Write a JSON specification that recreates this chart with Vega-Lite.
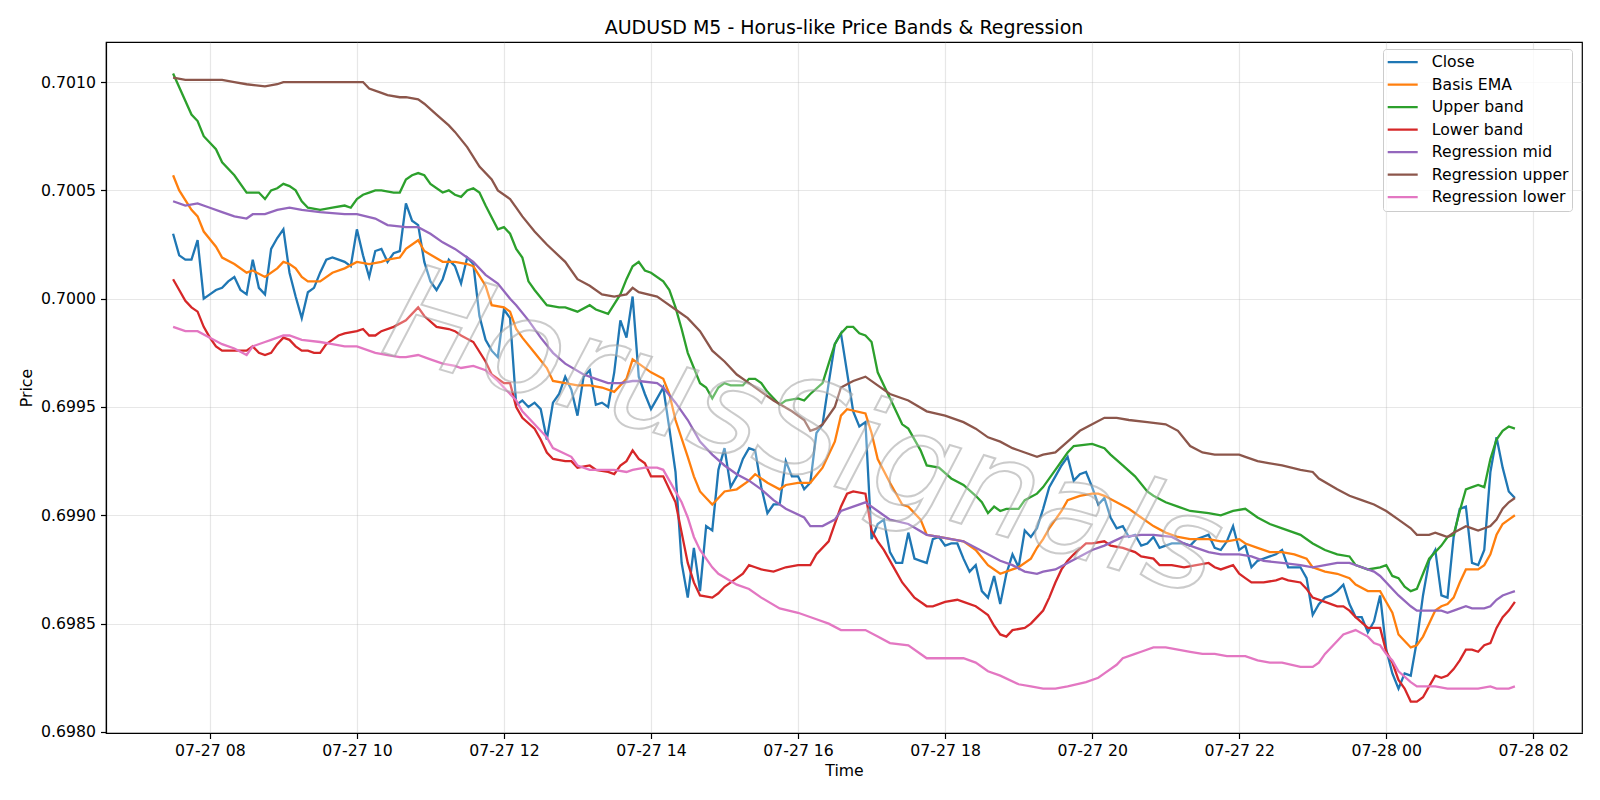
{
"$schema": "https://vega.github.io/schema/vega-lite/v6.json",
"width": 1476, "height": 691,
"autosize": {"type": "none"},
"padding": {"left": 106, "top": 42, "right": 18, "bottom": 67},
"background": "white",
"config": {"view": {"stroke": "black", "strokeWidth": 1.2}},
"title": {"text": "AUDUSD M5 - Horus-like Price Bands & Regression", "fontSize": 19, "font": "DejaVu Sans", "fontWeight": "normal", "color": "black", "offset": 4},
"layer": [
{
"data": {"values": [
{"t":"2025-07-27T07:30","c":0.70030,"e":0.70057,"u":0.70104,"l":0.70009,"m":0.70045,"ru":0.70102,"rl":0.69987},
{"t":"2025-07-27T07:35","c":0.70020,"e":0.70050,"l":0.70004},
{"t":"2025-07-27T07:40","c":0.70018,"l":0.69999,"m":0.70043,"ru":0.70101,"rl":0.69985},
{"t":"2025-07-27T07:45","c":0.70018,"e":0.70041,"u":0.70085,"l":0.69996},
{"t":"2025-07-27T07:50","c":0.70027,"e":0.70038,"u":0.70082,"l":0.69994,"m":0.70044,"ru":0.70101,"rl":0.69985},
{"t":"2025-07-27T07:55","c":0.70000,"e":0.70031,"u":0.70075,"l":0.69987},
{"t":"2025-07-27T08:00","c":0.70002,"l":0.69982,"m":0.70042,"ru":0.70101,"rl":0.69982},
{"t":"2025-07-27T08:05","c":0.70004,"e":0.70024,"u":0.70069,"l":0.69978},
{"t":"2025-07-27T08:10","c":0.70005,"e":0.70019,"u":0.70063,"l":0.69976,"m":0.70040,"ru":0.70101,"rl":0.69979},
{"t":"2025-07-27T08:15","c":0.70008,"l":0.69976},
{"t":"2025-07-27T08:20","c":0.70010,"e":0.70016,"u":0.70057,"l":0.69976,"m":0.70038,"ru":0.70100,"rl":0.69977},
{"t":"2025-07-27T08:25","c":0.70004,"l":0.69976},
{"t":"2025-07-27T08:30","c":0.70002,"e":0.70012,"u":0.70049,"l":0.69976,"m":0.70037,"ru":0.70099,"rl":0.69974},
{"t":"2025-07-27T08:35","c":0.70018,"e":0.70013,"u":0.70049,"l":0.69978,"m":0.70039,"rl":0.69978},
{"t":"2025-07-27T08:40","c":0.70005,"u":0.70049,"l":0.69975},
{"t":"2025-07-27T08:45","c":0.70002,"e":0.70010,"u":0.70046,"l":0.69974,"m":0.70039,"ru":0.70098,"rl":0.69980},
{"t":"2025-07-27T08:50","c":0.70023,"u":0.70050,"l":0.69975,"rl":0.69981},
{"t":"2025-07-27T08:55","c":0.70028,"e":0.70014,"u":0.70051,"l":0.69979,"m":0.70041,"ru":0.70099},
{"t":"2025-07-27T09:00","c":0.70032,"e":0.70017,"u":0.70053,"l":0.69982,"ru":0.70100,"rl":0.69983},
{"t":"2025-07-27T09:05","c":0.70012,"e":0.70016,"u":0.70052,"l":0.69981,"m":0.70042,"rl":0.69983},
{"t":"2025-07-27T09:10","c":0.70001,"e":0.70014,"u":0.70050,"l":0.69978},
{"t":"2025-07-27T09:15","c":0.69991,"e":0.70010,"u":0.70045,"l":0.69976,"m":0.70041,"ru":0.70100,"rl":0.69981},
{"t":"2025-07-27T09:20","c":0.70003,"e":0.70008,"u":0.70042,"l":0.69976},
{"t":"2025-07-27T09:25","c":0.70005,"l":0.69975},
{"t":"2025-07-27T09:30","c":0.70012,"e":0.70008,"u":0.70041,"l":0.69975,"m":0.70040,"ru":0.70100,"rl":0.69980},
{"t":"2025-07-27T09:35","c":0.70018,"l":0.69979},
{"t":"2025-07-27T09:40","c":0.70019,"e":0.70012,"u":0.70042,"l":0.69981,"rl":0.69979},
{"t":"2025-07-27T09:45","c":0.70018,"l":0.69983},
{"t":"2025-07-27T09:50","c":0.70017,"e":0.70014,"u":0.70043,"l":0.69984,"m":0.70039,"ru":0.70100,"rl":0.69978},
{"t":"2025-07-27T09:55","c":0.70015,"u":0.70042},
{"t":"2025-07-27T10:00","c":0.70032,"e":0.70017,"u":0.70046,"l":0.69985,"m":0.70039,"ru":0.70100,"rl":0.69978},
{"t":"2025-07-27T10:05","c":0.70020,"u":0.70048,"l":0.69986,"ru":0.70100},
{"t":"2025-07-27T10:10","c":0.70010,"e":0.70016,"u":0.70049,"l":0.69983,"ru":0.70097},
{"t":"2025-07-27T10:15","c":0.70022,"u":0.70050,"l":0.69983,"m":0.70037,"rl":0.69975},
{"t":"2025-07-27T10:20","c":0.70023,"e":0.70017,"u":0.70050,"l":0.69985,"ru":0.70095},
{"t":"2025-07-27T10:25","c":0.70017,"e":0.70018,"m":0.70034,"ru":0.70094,"rl":0.69974},
{"t":"2025-07-27T10:30","c":0.70021,"u":0.70049,"l":0.69987},
{"t":"2025-07-27T10:35","c":0.70022,"e":0.70019,"u":0.70049,"ru":0.70093,"rl":0.69973},
{"t":"2025-07-27T10:40","c":0.70044,"e":0.70023,"u":0.70055,"l":0.69990,"m":0.70033,"ru":0.70093,"rl":0.69973},
{"t":"2025-07-27T10:45","c":0.70036,"u":0.70057},
{"t":"2025-07-27T10:50","c":0.70034,"e":0.70027,"u":0.70058,"l":0.69996,"m":0.70033,"ru":0.70092,"rl":0.69974},
{"t":"2025-07-27T10:55","c":0.70017,"e":0.70022,"u":0.70057,"l":0.69992,"ru":0.70090},
{"t":"2025-07-27T11:00","c":0.70008,"u":0.70053,"m":0.70030,"rl":0.69972},
{"t":"2025-07-27T11:05","c":0.70004,"l":0.69987,"ru":0.70085},
{"t":"2025-07-27T11:10","c":0.70009,"e":0.70017,"u":0.70049,"m":0.70026,"rl":0.69970},
{"t":"2025-07-27T11:15","c":0.70018,"u":0.70050,"l":0.69986,"ru":0.70080},
{"t":"2025-07-27T11:20","c":0.70015,"e":0.70017,"u":0.70048,"l":0.69985,"m":0.70023,"ru":0.70077,"rl":0.69969},
{"t":"2025-07-27T11:25","c":0.70007,"u":0.70047,"l":0.69983,"rl":0.69968},
{"t":"2025-07-27T11:30","c":0.70019,"e":0.70016,"u":0.70050,"m":0.70019,"ru":0.70070},
{"t":"2025-07-27T11:35","c":0.70016,"e":0.70015,"u":0.70051,"l":0.69980,"m":0.70017,"rl":0.69969},
{"t":"2025-07-27T11:40","c":0.69992,"u":0.70049,"ru":0.70061},
{"t":"2025-07-27T11:45","c":0.69981,"e":0.70006,"u":0.70043,"l":0.69971,"m":0.70011,"rl":0.69967},
{"t":"2025-07-27T11:50","c":0.69976,"e":0.69997,"l":0.69965,"ru":0.70055},
{"t":"2025-07-27T11:55","c":0.69973,"u":0.70032,"m":0.70007,"ru":0.70050,"rl":0.69962},
{"t":"2025-07-27T12:00","c":0.69995,"e":0.69996,"u":0.70033,"l":0.69961,"rl":0.69959},
{"t":"2025-07-27T12:05","c":0.69991,"e":0.69994,"u":0.70030,"l":0.69961,"m":0.70000,"ru":0.70046},
{"t":"2025-07-27T12:10","c":0.69951,"e":0.69986,"u":0.70023,"l":0.69950,"m":0.69997,"ru":0.70042,"rl":0.69953},
{"t":"2025-07-27T12:15","c":0.69953,"e":0.69982,"u":0.70019,"l":0.69945,"ru":0.70038,"rl":0.69948},
{"t":"2025-07-27T12:20","c":0.69950,"u":0.70008,"m":0.69990},
{"t":"2025-07-27T12:25","c":0.69952,"e":0.69975,"u":0.70004,"l":0.69940,"ru":0.70031,"rl":0.69942},
{"t":"2025-07-27T12:30","c":0.69949,"l":0.69935,"m":0.69982},
{"t":"2025-07-27T12:35","c":0.69935,"e":0.69968,"u":0.69997,"l":0.69929,"ru":0.70025,"rl":0.69936},
{"t":"2025-07-27T12:40","c":0.69952,"e":0.69962,"l":0.69926,"m":0.69975,"rl":0.69931},
{"t":"2025-07-27T12:45","c":0.69956,"u":0.69996},
{"t":"2025-07-27T12:50","c":0.69964,"e":0.69961,"u":0.69996,"l":0.69925,"m":0.69970,"ru":0.70017},
{"t":"2025-07-27T12:55","c":0.69958,"l":0.69925,"rl":0.69927},
{"t":"2025-07-27T13:00","c":0.69946,"e":0.69960,"u":0.69994,"l":0.69922,"ru":0.70009,"rl":0.69923},
{"t":"2025-07-27T13:05","c":0.69964,"m":0.69965},
{"t":"2025-07-27T13:10","c":0.69967,"e":0.69960,"u":0.69997,"l":0.69923,"ru":0.70006,"rl":0.69921},
{"t":"2025-07-27T13:15","c":0.69951,"u":0.69995,"l":0.69921,"m":0.69963},
{"t":"2025-07-27T13:20","c":0.69952,"e":0.69959,"ru":0.70002,"rl":0.69921},
{"t":"2025-07-27T13:25","c":0.69950,"u":0.69993,"l":0.69920,"m":0.69961},
{"t":"2025-07-27T13:30","c":0.69966,"e":0.69957,"l":0.69919,"ru":0.70001,"rl":0.69921},
{"t":"2025-07-27T13:35","c":0.69990,"u":0.70002,"l":0.69923,"m":0.69961},
{"t":"2025-07-27T13:40","c":0.69982,"e":0.69963,"u":0.70009,"l":0.69925,"ru":0.70002,"rl":0.69920},
{"t":"2025-07-27T13:45","c":0.70001,"e":0.69972,"u":0.70015,"l":0.69930,"m":0.69962,"ru":0.70005,"rl":0.69921},
{"t":"2025-07-27T13:50","c":0.69964,"e":0.69970,"u":0.70017,"l":0.69926,"m":0.69962,"ru":0.70003},
{"t":"2025-07-27T13:55","c":0.69956,"u":0.70013,"l":0.69924,"rl":0.69922},
{"t":"2025-07-27T14:00","c":0.69949,"e":0.69966,"u":0.70012,"l":0.69918},
{"t":"2025-07-27T14:05","c":0.69954,"m":0.69961,"ru":0.70001,"rl":0.69922},
{"t":"2025-07-27T14:10","c":0.69959,"e":0.69963,"u":0.70008,"l":0.69918,"m":0.69959,"ru":0.69999,"rl":0.69921},
{"t":"2025-07-27T14:15","c":0.69940,"e":0.69956,"u":0.70004,"l":0.69912,"rl":0.69916},
{"t":"2025-07-27T14:20","c":0.69920,"e":0.69944,"u":0.69996,"l":0.69906,"m":0.69952,"ru":0.69995},
{"t":"2025-07-27T14:25","c":0.69878,"u":0.69986,"l":0.69892,"rl":0.69906},
{"t":"2025-07-27T14:30","c":0.69862,"e":0.69927,"u":0.69975,"l":0.69878,"m":0.69944,"ru":0.69991,"rl":0.69899},
{"t":"2025-07-27T14:35","c":0.69885,"e":0.69918,"u":0.69968,"l":0.69869,"rl":0.69890},
{"t":"2025-07-27T14:40","c":0.69865,"e":0.69911,"u":0.69961,"l":0.69863,"m":0.69934,"ru":0.69985,"rl":0.69884},
{"t":"2025-07-27T14:45","c":0.69895,"u":0.69959},
{"t":"2025-07-27T14:50","c":0.69893,"e":0.69905,"u":0.69954,"l":0.69862,"m":0.69928,"ru":0.69976,"rl":0.69876},
{"t":"2025-07-27T14:55","c":0.69921,"u":0.69959,"l":0.69864,"rl":0.69873},
{"t":"2025-07-27T15:00","c":0.69931,"e":0.69911,"u":0.69961,"l":0.69867,"m":0.69923,"ru":0.69971},
{"t":"2025-07-27T15:05","c":0.69913,"u":0.69960},
{"t":"2025-07-27T15:10","c":0.69918,"e":0.69912,"l":0.69871,"m":0.69919,"ru":0.69965,"rl":0.69868},
{"t":"2025-07-27T15:15","c":0.69926,"u":0.69960,"l":0.69873},
{"t":"2025-07-27T15:20","c":0.69931,"e":0.69916,"u":0.69963,"l":0.69877,"m":0.69916,"ru":0.69961,"rl":0.69866},
{"t":"2025-07-27T15:25","c":0.69930,"e":0.69919,"u":0.69963,"l":0.69876},
{"t":"2025-07-27T15:30","c":0.69913,"u":0.69961,"l":0.69875,"m":0.69912,"ru":0.69957,"rl":0.69862},
{"t":"2025-07-27T15:35","c":0.69901,"e":0.69915,"u":0.69957},
{"t":"2025-07-27T15:40","c":0.69905,"l":0.69874,"m":0.69907,"ru":0.69953},
{"t":"2025-07-27T15:45","c":0.69905,"e":0.69912,"u":0.69951,"rl":0.69857},
{"t":"2025-07-27T15:50","c":0.69925,"e":0.69914,"u":0.69953,"l":0.69876,"m":0.69903},
{"t":"2025-07-27T15:55","c":0.69918,"ru":0.69948},
{"t":"2025-07-27T16:00","c":0.69918,"e":0.69915,"u":0.69954,"l":0.69877,"rl":0.69855},
{"t":"2025-07-27T16:05","c":0.69912,"u":0.69953,"m":0.69899,"ru":0.69944},
{"t":"2025-07-27T16:10","c":0.69915,"e":0.69915,"u":0.69956,"l":0.69877,"m":0.69895,"ru":0.69939},
{"t":"2025-07-27T16:15","c":0.69938,"l":0.69882,"ru":0.69940,"rl":0.69852},
{"t":"2025-07-27T16:20","c":0.69942,"e":0.69922,"u":0.69961,"m":0.69895,"ru":0.69942},
{"t":"2025-07-27T16:25","c":0.69961,"u":0.69970,"l":0.69888,"rl":0.69850},
{"t":"2025-07-27T16:30","c":0.69979,"e":0.69934,"u":0.69979,"l":0.69896,"m":0.69898,"ru":0.69950},
{"t":"2025-07-27T16:35","c":0.69984,"e":0.69946,"u":0.69984,"l":0.69904,"m":0.69902,"ru":0.69959,"rl":0.69847},
{"t":"2025-07-27T16:40","c":0.69966,"e":0.69949,"u":0.69987,"l":0.69910},
{"t":"2025-07-27T16:45","c":0.69948,"u":0.69987,"l":0.69911,"m":0.69904,"ru":0.69962},
{"t":"2025-07-27T16:50","c":0.69941,"u":0.69984,"rl":0.69847},
{"t":"2025-07-27T16:55","c":0.69943,"e":0.69947,"u":0.69983,"l":0.69910,"m":0.69906,"ru":0.69964,"rl":0.69847},
{"t":"2025-07-27T17:00","c":0.69889,"e":0.69938,"u":0.69980,"l":0.69893},
{"t":"2025-07-27T17:05","c":0.69896,"e":0.69926,"u":0.69966,"l":0.69888,"m":0.69902,"ru":0.69960,"rl":0.69844},
{"t":"2025-07-27T17:10","c":0.69898,"l":0.69884},
{"t":"2025-07-27T17:15","c":0.69883,"e":0.69915,"u":0.69954,"m":0.69898,"ru":0.69956,"rl":0.69841},
{"t":"2025-07-27T17:20","c":0.69878,"l":0.69874},
{"t":"2025-07-27T17:25","c":0.69878,"e":0.69905,"u":0.69942,"l":0.69869},
{"t":"2025-07-27T17:30","c":0.69892,"e":0.69904,"u":0.69940,"m":0.69896,"ru":0.69953,"rl":0.69840},
{"t":"2025-07-27T17:35","c":0.69880,"l":0.69862},
{"t":"2025-07-27T17:40","c":0.69879,"e":0.69898,"u":0.69930},
{"t":"2025-07-27T17:45","c":0.69878,"e":0.69891,"u":0.69923,"l":0.69858,"m":0.69891,"ru":0.69948,"rl":0.69834},
{"t":"2025-07-27T17:50","c":0.69889,"l":0.69858},
{"t":"2025-07-27T17:55","c":0.69890,"e":0.69890,"u":0.69922,"m":0.69890},
{"t":"2025-07-27T18:00","c":0.69886,"l":0.69860,"ru":0.69946,"rl":0.69834},
{"t":"2025-07-27T18:05","c":0.69887,"e":0.69889,"u":0.69917},
{"t":"2025-07-27T18:10","c":0.69887,"l":0.69861},
{"t":"2025-07-27T18:15","c":0.69880,"e":0.69888,"u":0.69914,"l":0.69860,"m":0.69888,"ru":0.69943,"rl":0.69834},
{"t":"2025-07-27T18:20","c":0.69874},
{"t":"2025-07-27T18:25","c":0.69877,"e":0.69884,"u":0.69909,"l":0.69858,"m":0.69885,"ru":0.69940,"rl":0.69832},
{"t":"2025-07-27T18:30","c":0.69865,"u":0.69906,"l":0.69856},
{"t":"2025-07-27T18:35","c":0.69862,"e":0.69877,"u":0.69901,"l":0.69854,"m":0.69882,"ru":0.69936,"rl":0.69828},
{"t":"2025-07-27T18:40","c":0.69872,"u":0.69904,"l":0.69849},
{"t":"2025-07-27T18:45","c":0.69859,"e":0.69873,"u":0.69902,"l":0.69845,"m":0.69879,"ru":0.69934,"rl":0.69826},
{"t":"2025-07-27T18:50","c":0.69873,"u":0.69903,"l":0.69844},
{"t":"2025-07-27T18:55","c":0.69882,"e":0.69875,"l":0.69847,"m":0.69877,"ru":0.69931},
{"t":"2025-07-27T19:00","c":0.69876,"e":0.69876,"u":0.69903,"rl":0.69822},
{"t":"2025-07-27T19:05","c":0.69893,"u":0.69907,"l":0.69848,"m":0.69874,"ru":0.69929},
{"t":"2025-07-27T19:10","c":0.69890,"e":0.69880,"l":0.69850,"rl":0.69821},
{"t":"2025-07-27T19:15","c":0.69894,"e":0.69885,"u":0.69910,"l":0.69853,"m":0.69873,"ru":0.69927},
{"t":"2025-07-27T19:20","c":0.69903,"e":0.69889,"u":0.69913,"l":0.69856,"m":0.69874,"ru":0.69928,"rl":0.69820},
{"t":"2025-07-27T19:25","c":0.69913,"e":0.69894,"l":0.69862},
{"t":"2025-07-27T19:30","c":0.69918,"u":0.69921,"l":0.69869,"m":0.69875,"ru":0.69929,"rl":0.69820},
{"t":"2025-07-27T19:35","c":0.69923,"e":0.69902,"l":0.69875},
{"t":"2025-07-27T19:40","c":0.69927,"e":0.69907,"u":0.69929,"l":0.69879,"m":0.69878,"ru":0.69934,"rl":0.69821},
{"t":"2025-07-27T19:45","c":0.69916,"u":0.69932,"l":0.69882},
{"t":"2025-07-27T19:50","c":0.69919,"e":0.69909,"m":0.69881,"ru":0.69939},
{"t":"2025-07-27T19:55","c":0.69920,"l":0.69887,"rl":0.69823},
{"t":"2025-07-27T20:00","c":0.69913,"e":0.69910,"u":0.69933,"l":0.69887,"m":0.69884,"ru":0.69942},
{"t":"2025-07-27T20:05","c":0.69905,"e":0.69910,"rl":0.69825},
{"t":"2025-07-27T20:10","c":0.69908,"e":0.69909,"u":0.69931,"l":0.69888,"m":0.69886,"ru":0.69945,"rl":0.69827},
{"t":"2025-07-27T20:15","c":0.69899,"u":0.69928,"l":0.69886},
{"t":"2025-07-27T20:20","c":0.69894,"e":0.69906,"ru":0.69945,"rl":0.69831},
{"t":"2025-07-27T20:25","c":0.69895,"u":0.69923,"l":0.69885,"m":0.69890,"rl":0.69834},
{"t":"2025-07-27T20:30","c":0.69890,"e":0.69903,"ru":0.69944},
{"t":"2025-07-27T20:35","c":0.69891,"u":0.69918,"l":0.69883,"rl":0.69836},
{"t":"2025-07-27T20:40","c":0.69886,"e":0.69899,"l":0.69881,"m":0.69891,"rl":0.69837},
{"t":"2025-07-27T20:45","c":0.69887,"u":0.69911,"ru":0.69943},
{"t":"2025-07-27T20:50","c":0.69890,"e":0.69895,"u":0.69909,"l":0.69880,"m":0.69891,"rl":0.69839},
{"t":"2025-07-27T20:55","c":0.69885,"l":0.69877},
{"t":"2025-07-27T21:00","c":0.69886,"e":0.69892,"u":0.69906,"ru":0.69942,"rl":0.69839},
{"t":"2025-07-27T21:05","c":0.69887,"l":0.69877,"m":0.69890},
{"t":"2025-07-27T21:10","c":0.69887,"e":0.69890,"u":0.69904,"ru":0.69939,"rl":0.69838},
{"t":"2025-07-27T21:15","c":0.69887,"l":0.69876,"m":0.69887},
{"t":"2025-07-27T21:20","c":0.69886,"e":0.69889,"u":0.69902,"ru":0.69932,"rl":0.69837},
{"t":"2025-07-27T21:25","c":0.69889,"l":0.69877,"m":0.69885},
{"t":"2025-07-27T21:30","c":0.69890,"ru":0.69929,"rl":0.69836},
{"t":"2025-07-27T21:35","c":0.69891,"e":0.69889,"u":0.69901,"l":0.69878,"m":0.69883},
{"t":"2025-07-27T21:40","c":0.69885,"l":0.69876,"ru":0.69928,"rl":0.69836},
{"t":"2025-07-27T21:45","c":0.69884,"e":0.69888,"u":0.69900,"l":0.69875,"m":0.69882},
{"t":"2025-07-27T21:50","c":0.69888,"e":0.69888,"m":0.69882,"ru":0.69928,"rl":0.69835},
{"t":"2025-07-27T21:55","c":0.69895,"u":0.69902,"l":0.69877},
{"t":"2025-07-27T22:00","c":0.69884,"e":0.69889,"l":0.69873,"m":0.69882,"ru":0.69928},
{"t":"2025-07-27T22:05","c":0.69886,"e":0.69887,"u":0.69903,"l":0.69871,"ru":0.69927,"rl":0.69835},
{"t":"2025-07-27T22:10","c":0.69876,"l":0.69869,"m":0.69881},
{"t":"2025-07-27T22:15","c":0.69879,"e":0.69885,"u":0.69899,"ru":0.69925,"rl":0.69833},
{"t":"2025-07-27T22:20","c":0.69880,"l":0.69869,"m":0.69879},
{"t":"2025-07-27T22:25","c":0.69881,"e":0.69883,"u":0.69896,"ru":0.69924,"rl":0.69832},
{"t":"2025-07-27T22:30","c":0.69882,"l":0.69870},
{"t":"2025-07-27T22:35","c":0.69884,"e":0.69883,"u":0.69894,"l":0.69871,"m":0.69878,"ru":0.69923,"rl":0.69832},
{"t":"2025-07-27T22:40","c":0.69876,"l":0.69870},
{"t":"2025-07-27T22:45","c":0.69876,"e":0.69882},
{"t":"2025-07-27T22:50","c":0.69876,"u":0.69891,"l":0.69869,"m":0.69877,"ru":0.69921,"rl":0.69830},
{"t":"2025-07-27T22:55","c":0.69871,"e":0.69880,"l":0.69866},
{"t":"2025-07-27T23:00","c":0.69854,"e":0.69876,"u":0.69887,"l":0.69862,"m":0.69876,"ru":0.69920,"rl":0.69830},
{"t":"2025-07-27T23:05","c":0.69859,"ru":0.69917,"rl":0.69832},
{"t":"2025-07-27T23:10","c":0.69862,"e":0.69874,"u":0.69884,"l":0.69860,"m":0.69877,"rl":0.69836},
{"t":"2025-07-27T23:15","c":0.69863},
{"t":"2025-07-27T23:20","c":0.69865,"e":0.69873,"u":0.69882,"l":0.69858,"m":0.69878,"ru":0.69912,"rl":0.69842},
{"t":"2025-07-27T23:25","c":0.69868,"l":0.69858,"rl":0.69845},
{"t":"2025-07-27T23:30","c":0.69859,"e":0.69871,"u":0.69881,"l":0.69856,"m":0.69878,"ru":0.69909},
{"t":"2025-07-27T23:35","c":0.69853,"e":0.69868,"u":0.69877,"l":0.69853,"rl":0.69847},
{"t":"2025-07-27T23:40","c":0.69853,"m":0.69876,"ru":0.69907},
{"t":"2025-07-27T23:45","c":0.69846,"e":0.69865,"u":0.69875,"l":0.69848,"rl":0.69844},
{"t":"2025-07-27T23:50","c":0.69851,"m":0.69874,"ru":0.69905,"rl":0.69841},
{"t":"2025-07-27T23:55","c":0.69863,"e":0.69865,"u":0.69876,"l":0.69848,"m":0.69872,"rl":0.69840},
{"t":"2025-07-28T00:00","c":0.69838,"e":0.69860,"u":0.69877,"l":0.69837,"ru":0.69902,"rl":0.69836},
{"t":"2025-07-28T00:05","c":0.69827,"e":0.69855,"u":0.69872,"l":0.69832,"m":0.69866,"rl":0.69833},
{"t":"2025-07-28T00:10","c":0.69820,"e":0.69845,"u":0.69871,"l":0.69824,"m":0.69863,"ru":0.69898,"rl":0.69828},
{"t":"2025-07-28T00:15","c":0.69827,"e":0.69842,"u":0.69867,"l":0.69820},
{"t":"2025-07-28T00:20","c":0.69826,"e":0.69839,"u":0.69865,"l":0.69814,"m":0.69858,"ru":0.69894,"rl":0.69823},
{"t":"2025-07-28T00:25","c":0.69842,"e":0.69840,"u":0.69866,"l":0.69814,"m":0.69856,"ru":0.69891,"rl":0.69821},
{"t":"2025-07-28T00:30","c":0.69863,"e":0.69844,"u":0.69873,"l":0.69816,"m":0.69856},
{"t":"2025-07-28T00:35","c":0.69879,"e":0.69850,"u":0.69880,"l":0.69821,"m":0.69856,"ru":0.69891},
{"t":"2025-07-28T00:40","c":0.69884,"e":0.69856,"l":0.69826,"ru":0.69892,"rl":0.69821},
{"t":"2025-07-28T00:45","c":0.69863,"e":0.69858,"u":0.69886,"l":0.69825,"m":0.69856,"ru":0.69891},
{"t":"2025-07-28T00:50","c":0.69862,"e":0.69859,"u":0.69890,"l":0.69826,"m":0.69855,"ru":0.69890,"rl":0.69820},
{"t":"2025-07-28T00:55","c":0.69890,"e":0.69862,"u":0.69891,"l":0.69829,"m":0.69856,"ru":0.69892},
{"t":"2025-07-28T01:00","c":0.69903,"e":0.69869,"u":0.69902,"l":0.69833},
{"t":"2025-07-28T01:05","c":0.69904,"e":0.69875,"u":0.69912,"l":0.69838,"m":0.69858,"ru":0.69895,"rl":0.69820},
{"t":"2025-07-28T01:10","c":0.69878,"e":0.69875,"u":0.69913,"l":0.69838,"m":0.69857,"ru":0.69894},
{"t":"2025-07-28T01:15","c":0.69877,"e":0.69875,"u":0.69914,"l":0.69837,"ru":0.69893,"rl":0.69820},
{"t":"2025-07-28T01:20","c":0.69884,"e":0.69877,"u":0.69913,"l":0.69840,"m":0.69857},
{"t":"2025-07-28T01:25","c":0.69920,"e":0.69882,"u":0.69926,"l":0.69841,"m":0.69858,"ru":0.69895,"rl":0.69821},
{"t":"2025-07-28T01:30","c":0.69936,"e":0.69891,"u":0.69935,"l":0.69848,"m":0.69861,"ru":0.69898,"rl":0.69820},
{"t":"2025-07-28T01:35","c":0.69922,"e":0.69896,"u":0.69939,"l":0.69853,"m":0.69863,"ru":0.69903},
{"t":"2025-07-28T01:40","c":0.69911,"e":0.69898,"u":0.69941,"l":0.69856,"m":0.69864,"ru":0.69906,"rl":0.69820},
{"t":"2025-07-28T01:45","c":0.69908,"e":0.69900,"u":0.69940,"l":0.69860,"m":0.69865,"ru":0.69908,"rl":0.69821}
]},
"transform": [
  {"fold": ["c", "e", "u", "l", "m", "ru", "rl"], "as": ["key", "price"]},
  {"filter": {"field": "price", "valid": true}},
  {"lookup": "key", "from": {"data": {"values": [
    {"k": "c", "name": "Close"}, {"k": "e", "name": "Basis EMA"}, {"k": "u", "name": "Upper band"}, {"k": "l", "name": "Lower band"},
    {"k": "m", "name": "Regression mid"}, {"k": "ru", "name": "Regression upper"}, {"k": "rl", "name": "Regression lower"}]}, "key": "k", "fields": ["name"]}}
],
"mark": {"type": "line", "strokeWidth": 2.3},
"encoding": {
  "x": {"field": "t", "type": "temporal", "title": "Time",
    "scale": {"domain": [{"year": 2025, "month": 7, "date": 27, "hours": 6, "minutes": 35, "seconds": 15}, {"year": 2025, "month": 7, "date": 28, "hours": 2, "minutes": 39, "seconds": 45}]},
    "axis": {"format": "%m-%d %H",
      "values": [{"year": 2025, "month": 7, "date": 27, "hours": 8}, {"year": 2025, "month": 7, "date": 27, "hours": 10}, {"year": 2025, "month": 7, "date": 27, "hours": 12}, {"year": 2025, "month": 7, "date": 27, "hours": 14}, {"year": 2025, "month": 7, "date": 27, "hours": 16}, {"year": 2025, "month": 7, "date": 27, "hours": 18}, {"year": 2025, "month": 7, "date": 27, "hours": 20}, {"year": 2025, "month": 7, "date": 27, "hours": 22}, {"year": 2025, "month": 7, "date": 28, "hours": 0}, {"year": 2025, "month": 7, "date": 28, "hours": 2}],
      "labelFontSize": 15.7, "labelColor": "black", "labelFont": "DejaVu Sans", "labelPadding": 5, "tickColor": "black", "tickSize": 5.5, "tickWidth": 1.2, "domainColor": "black", "domainWidth": 1.2, "gridColor": "#b0b0b0", "gridOpacity": 0.3, "gridWidth": 1.2, "titleFontSize": 15.7, "titleFontWeight": "normal", "titleColor": "black", "titleFont": "DejaVu Sans", "titlePadding": 5}},
  "y": {"field": "price", "type": "quantitative", "title": "Price",
    "scale": {"domain": [0.697995, 0.701185], "zero": false, "nice": false},
    "axis": {"values": [0.698, 0.6985, 0.699, 0.6995, 0.7, 0.7005, 0.701], "format": ".4f", "labelFontSize": 15.7, "labelColor": "black", "labelFont": "DejaVu Sans", "labelPadding": 5, "tickColor": "black", "tickSize": 5.5, "tickWidth": 1.2, "domainColor": "black", "domainWidth": 1.2, "gridColor": "#b0b0b0", "gridOpacity": 0.3, "gridWidth": 1.2, "titleFontSize": 15.7, "titleFontWeight": "normal", "titleColor": "black", "titleFont": "DejaVu Sans", "titlePadding": 6}},
  "color": {"field": "name", "type": "nominal",
    "scale": {"domain": ["Close", "Basis EMA", "Upper band", "Lower band", "Regression mid", "Regression upper", "Regression lower"], "range": ["#1f77b4", "#ff7f0e", "#2ca02c", "#d62728", "#9467bd", "#8c564b", "#e377c2"]},
    "legend": {"title": null, "orient": "none", "legendX": 1277, "legendY": 7,
      "labelFontSize": 15.7, "labelFont": "DejaVu Sans", "labelColor": "black", "labelLimit": 300,
      "symbolType": "stroke", "symbolSize": 900, "symbolStrokeWidth": 2.3, "labelOffset": 12.6, "clipHeight": 20,
      "rowPadding": 2.5, "padding": 3.2, "fillColor": "rgba(255,255,255,0.8)", "strokeColor": "#cccccc", "cornerRadius": 3}}
}
},
{
"data": {"values": [{"t": "2025-07-27T16:04", "price": 0.69937, "label": "HorusSignals"}]},
"mark": {"type": "text", "font": "DejaVu Sans", "fontStyle": "italic", "fontSize": 132, "angle": 16.5, "align": "center", "baseline": "middle", "fill": "#ffffff", "fillOpacity": 0.3, "stroke": "#a0a0a0", "strokeOpacity": 0.55, "strokeWidth": 2},
"encoding": {
  "x": {"field": "t", "type": "temporal"},
  "y": {"field": "price", "type": "quantitative"},
  "text": {"field": "label"}
}
}
]
}
